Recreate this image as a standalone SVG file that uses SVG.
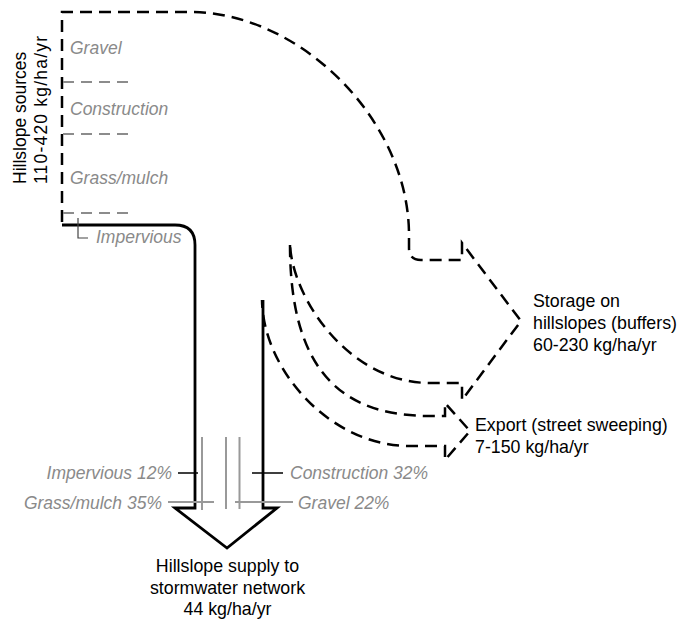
<svg xmlns="http://www.w3.org/2000/svg" width="679" height="619" viewBox="0 0 679 619">
<style>
.t{font-family:"Liberation Sans",Arial,sans-serif;font-size:17.8px;fill:#000}
.r{font-family:"Liberation Sans",Arial,sans-serif;font-size:17.5px;fill:#000}
.g{font-family:"Liberation Sans",Arial,sans-serif;font-size:17.5px;font-style:italic;fill:#8a8a8a}
.dash{fill:none;stroke:#000;stroke-width:2.5;stroke-dasharray:12 7}
.gdash{fill:none;stroke:#8c8c8c;stroke-width:2;stroke-dasharray:11 7}
.solid{fill:none;stroke:#000;stroke-width:2.8;stroke-linejoin:miter}
.gl{fill:none;stroke:#999;stroke-width:2}
.bl{fill:none;stroke:#000;stroke-width:1.4}
</style>
<rect width="679" height="619" fill="#fff"/>
<g id="connectors">
<path class="dash" d="M62 222 V12 H190 C300 12 409 120 409 235 V248 Q409 260 421 260 H462 V243 L521 321 L462 400 V383 H430 C350 383 293 300 290 245"/>
<path class="dash" d="M290 245 C290 380 350 416 430 416 H445 V403 L470 431 L445 460 V446 H410 C330 446 263 370 262 300"/>
<path class="solid" d="M62 225 H175 Q195 225 195 245 V508 H175 L227 548 L277 508 H263 V300"/>
</g>
<g id="node-sources">
<text class="r" transform="translate(26,184) rotate(-90)">Hillslope sources</text>
<text class="r" transform="translate(47,184) rotate(-90)" textLength="148" lengthAdjust="spacing">110-420 kg/ha/yr</text>
<text class="g" x="70" y="54">Gravel</text>
<path class="gdash" d="M63 82 H135"/>
<text class="g" x="70" y="115">Construction</text>
<path class="gdash" d="M63 134 H135"/>
<text class="g" x="70" y="184">Grass/mulch</text>
<path class="gdash" d="M63 213 H135"/>
<path fill="none" stroke="#444" stroke-width="1.2" d="M78 218 V238 H88"/>
<text class="g" x="96" y="243">Impervious</text>
</g>
<g id="node-storage">
<text class="t" x="533" y="307">Storage on</text>
<text class="t" x="533" y="329">hillslopes (buffers)</text>
<text class="t" x="533" y="351">60-230 kg/ha/yr</text>
</g>
<g id="node-export">
<text class="t" x="475" y="431">Export (street sweeping)</text>
<text class="t" x="475" y="452.5">7-150 kg/ha/yr</text>
</g>
<g id="node-supply">
<path class="gl" d="M202 437 V510 M226 437 V509 M239.5 437 V509 M168 502 H214 M235 502 H293"/>
<path class="bl" d="M178 473 H198 M252 473 H283"/>
<text class="g" x="172" y="479" text-anchor="end">Impervious 12%</text>
<text class="g" x="162" y="509" text-anchor="end">Grass/mulch 35%</text>
<text class="g" x="290" y="479">Construction 32%</text>
<text class="g" x="298" y="509">Gravel 22%</text>
<text class="t" x="227.5" y="572" text-anchor="middle">Hillslope supply to</text>
<text class="t" x="227.5" y="593.5" text-anchor="middle">stormwater network</text>
<text class="t" x="227.5" y="615" text-anchor="middle">44 kg/ha/yr</text>
</g>
</svg>
